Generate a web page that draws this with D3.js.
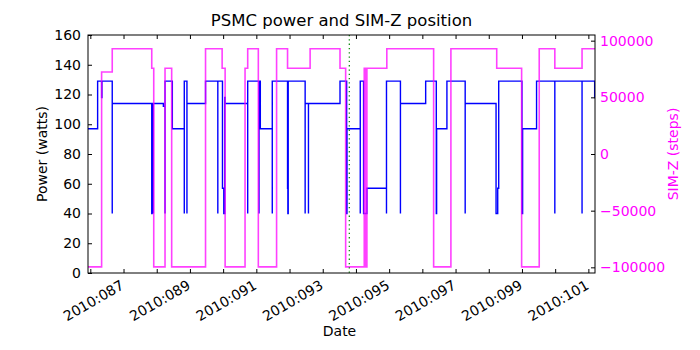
<!DOCTYPE html>
<html>
<head>
<meta charset="utf-8">
<script src="https://cdn.jsdelivr.net/npm/d3@7"></script>
<style>
  html, body { margin: 0; padding: 0; background: #fff; }
  svg { display: block; font-family: "DejaVu Sans", sans-serif; }
</style>
</head>
<body>
<svg id="chart" width="700" height="350"></svg>
<script>
// ---- Data (day of year 2010, decimal) ----
const powerTimes = [85.93, 86.22, 86.34, 86.35, 86.66, 86.66, 87.85, 87.86, 87.90, 87.90, 88.20, 88.25, 88.25, 88.47,
  88.83, 88.83, 88.91, 88.91, 89.47, 89.84, 89.84, 89.98, 90.02, 90.05, 90.06, 90.74, 90.74, 91.08, 91.08, 91.12,
  91.48, 91.48, 91.94, 91.95, 91.96, 92.47, 92.47, 92.57, 92.57, 93.52, 93.72, 93.73, 94.13, 94.13, 94.23, 94.33,
  94.92, 94.92, 95.34, 95.34, 96.10, 96.42, 96.43, 96.74, 97.29, 97.29, 98.22, 98.27, 98.30, 99.00, 99.02, 99.44,
  99.99, 99.99, 100.81, 100.81, 101.19, 101.20];
const powerValues = [97, 129, 118, 129, 40, 114, 40, 114, 40, 114, 112, 40, 129, 97,
  40, 129, 40, 114, 129, 40, 129, 57, 40, 118, 114, 40, 129, 40, 129, 97,
  40, 129, 57, 40, 129, 40, 114, 40, 114, 129, 40, 97, 40, 129, 40, 57,
  40, 129, 40, 114, 129, 40, 97, 129, 40, 114, 40, 57, 129, 40, 97, 129,
  40, 129, 40, 129, 118, 118];

const simzTimes = [85.93, 86.34, 86.66, 87.85, 87.91, 88.25, 88.45, 89.47, 89.97, 90.06, 90.66, 90.74, 91.06,
  91.61, 91.94, 92.62, 93.52, 93.69, 94.25, 94.27, 94.29, 94.31, 94.33, 94.93, 96.34, 96.86, 98.24, 98.99,
  99.52, 99.99, 100.81, 101.20];
const simzValues = [-99616, 72416, 92904, 75624, -99616, 75624, -99616, 92904, 75624, -99616, 75624, 92904, -99616,
  92904, 75624, 92904, 75624, -99616, 75624, -99616, 75624, -99616, 75624, 92904, -99616, 92904, 75624, -99616,
  92904, 75624, 92904, 92904];

const markerDay = [93.80];
const xTickDays = [86, 87, 88, 89, 90, 91, 92, 93, 94, 95, 96, 97, 98, 99, 100, 101];
const xLabelDays = [87, 89, 91, 93, 95, 97, 99, 101];
const powerTicks = [0, 20, 40, 60, 80, 100, 120, 140, 160];
const simzTicks = [-100000, -50000, 0, 50000, 100000];

// ---- Layout ----
const L = 88, R = 595, T = 35, B = 273;
const svg = d3.select("#chart");
const x = d3.scaleLinear().domain([85.93, 101.2]).range([L, R]);
const yL = d3.scaleLinear().domain([0, 160]).range([B, T]);
const yR = d3.scaleLinear().domain([-105000, 105000]).range([B, T]);

svg.append("clipPath").attr("id", "clip").append("rect")
  .attr("x", L).attr("y", T).attr("width", R - L).attr("height", B - T);

const plot = svg.append("g").attr("clip-path", "url(#clip)");

const powerData = powerTimes.map((t, i) => [t, powerValues[i]]);
const simzData = simzTimes.map((t, i) => [t, simzValues[i]]);

plot.append("path")
  .datum(powerData)
  .attr("fill", "none").attr("stroke", "#0000ff").attr("stroke-width", 1.4)
  .attr("d", d3.line().x(d => x(d[0])).y(d => yL(d[1])).curve(d3.curveStepAfter));

plot.append("path")
  .datum(simzData)
  .attr("fill", "none").attr("stroke", "#ff00ff").attr("stroke-width", 1.6).attr("stroke-opacity", 0.75)
  .attr("d", d3.line().x(d => x(d[0])).y(d => yR(d[1])).curve(d3.curveStepAfter));

plot.selectAll("line.marker").data(markerDay).enter().append("line")
  .attr("class", "marker")
  .attr("x1", d => x(d)).attr("x2", d => x(d)).attr("y1", T).attr("y2", B)
  .attr("stroke", "#008000").attr("stroke-width", 1.2).attr("stroke-dasharray", "1.3,3");

// ---- Axes ----
const fs = 14;
const axL = svg.append("g").attr("transform", `translate(${L},0)`)
  .call(d3.axisLeft(yL).tickValues(powerTicks).tickSizeInner(-4).tickSizeOuter(0).tickPadding(7));
const axR = svg.append("g").attr("transform", `translate(${R},0)`)
  .call(d3.axisRight(yR).tickValues(simzTicks).tickSizeInner(-4).tickSizeOuter(0).tickPadding(5)
    .tickFormat(d => d3.format("d")(d).replace("-", "\u2212")));
const axB = svg.append("g").attr("transform", `translate(0,${B})`)
  .call(d3.axisBottom(x).tickValues(xTickDays).tickSizeInner(-4).tickSizeOuter(0).tickFormat(""));
const axT = svg.append("g").attr("transform", `translate(0,${T})`)
  .call(d3.axisTop(x).tickValues(xTickDays).tickSizeInner(-4).tickSizeOuter(0).tickFormat(""));

[axL, axR, axB, axT].forEach(a => {
  a.select(".domain").remove();
  a.selectAll(".tick line").attr("stroke", "#000");
  a.selectAll("text").attr("font-size", fs).attr("font-family", "DejaVu Sans");
});
axL.selectAll("text").attr("fill", "#000");
axR.selectAll("text").attr("fill", "#ff00ff");

svg.append("rect").attr("x", L).attr("y", T).attr("width", R - L).attr("height", B - T)
  .attr("fill", "none").attr("stroke", "#000").attr("stroke-width", 1);

// x tick labels
svg.selectAll("text.xlab").data(xLabelDays).enter().append("text")
  .attr("class", "xlab")
  .attr("transform", d => `translate(${x(d) + 1.5},288) rotate(-30)`)
  .attr("text-anchor", "end").attr("font-size", fs).attr("fill", "#000")
  .text(d => "2010:" + String(d).padStart(3, "0"));

// Titles and labels
svg.append("text").attr("x", (L + R) / 2).attr("y", 26).attr("text-anchor", "middle")
  .attr("font-size", 16.5).attr("fill", "#000").text("PSMC power and SIM-Z position");
svg.append("text").attr("x", (L + R) / 2 - 2).attr("y", 336).attr("text-anchor", "middle")
  .attr("font-size", fs).attr("fill", "#000").text("Date");
svg.append("text").attr("transform", `translate(46.5,${(T + B) / 2}) rotate(-90)`).attr("text-anchor", "middle")
  .attr("font-size", fs).attr("fill", "#000").text("Power (watts)");
svg.append("text").attr("transform", `translate(678,${(T + B) / 2}) rotate(-90)`).attr("text-anchor", "middle")
  .attr("font-size", fs).attr("fill", "#ff00ff").text("SIM-Z (steps)");
</script>
</body>
</html>
